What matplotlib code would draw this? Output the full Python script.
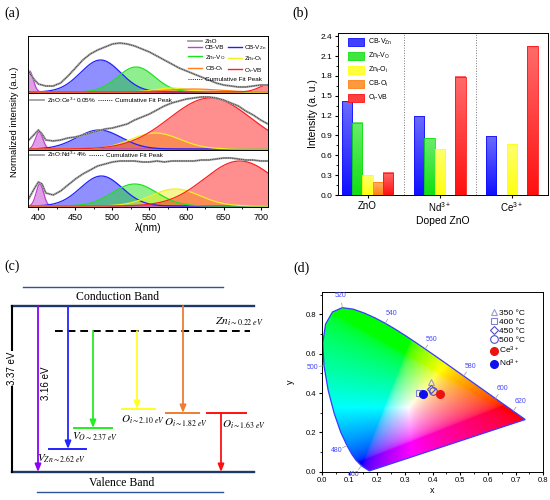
import numpy as np
import matplotlib
matplotlib.use('Agg')
import matplotlib.pyplot as plt
from matplotlib.lines import Line2D
from matplotlib.patches import Patch, Polygon
from matplotlib.ticker import MultipleLocator, FormatStrFormatter
import matplotlib.colors as mcolors

plt.rcParams['font.family'] = ['Liberation Sans', 'DejaVu Sans']
plt.rcParams['mathtext.fontset'] = 'custom'
plt.rcParams['mathtext.rm'] = 'Liberation Sans'
plt.rcParams['mathtext.it'] = 'Liberation Sans:italic'
plt.rcParams['mathtext.bf'] = 'Liberation Sans:bold'
plt.rcParams['axes.linewidth'] = 0.7

# ---------------- data: panel (a) ----------------
wavelength = [386, 395, 400, 405, 410, 420, 430, 440, 450, 460, 470, 480, 490, 500,
              510, 520, 530, 540, 550, 560, 570, 580, 590, 600, 610, 620, 630, 640,
              650, 660, 670, 680, 690, 700, 710]
zno_spec = [21, 12, 8, 7, 6, 6, 9, 16, 24, 32, 38, 42, 45, 48, 49, 48, 46, 43, 40, 36,
            32, 28, 24, 21, 18, 15, 12, 9, 7, 6, 5, 5, 6, 7, 7]
ce_spec = [8, 15, 19, 15, 9, 8, 9, 11, 12, 14, 16, 18, 20, 21, 23, 25, 29, 32, 35, 39,
           43, 46, 48, 50, 51, 52, 52, 51, 49, 46, 43, 38, 34, 29, 25]
nd_spec = [6, 18, 24, 22, 13, 11, 15, 21, 27, 32, 36, 40, 42, 44, 45, 45, 45, 44, 44, 45,
           44, 45, 45, 45, 45, 46, 46, 47, 48, 48, 47, 46, 46, 45, 45]

comp_labels = ['CB-VB', 'CB-V$_{\\rm Zn}$', 'Zn$_{\\rm i}$-V$_{\\rm O}$',
               'Zn$_{\\rm i}$-O$_{\\rm i}$', 'CB-O$_{\\rm i}$', 'O$_{\\rm i}$-VB']
comp_colors = ['#c040d0', '#2020ff', '#20e020', '#f0f020', '#ff8020', '#ff2020']

zno_peak_nm = [388, 484, 532, 580, 610, 712]
zno_peak_h = [21, 32, 25, 4, 3, 7.5]
zno_peak_w = [5, 27, 25, 22, 35, 14]
ce_peak_nm = [401, 482, 0, 558, 0, 632]
ce_peak_h = [17, 19, 0, 16, 0, 51]
ce_peak_w = [5, 30, 0, 33, 0, 55]
nd_peak_nm = [402, 485, 530, 585, 0, 672]
nd_peak_h = [22, 30, 22, 17, 0, 45]
nd_peak_w = [5, 28, 30, 33, 0, 48]

# ---------------- data: panel (b) ----------------
groups = ['ZnO', 'Nd$^{3+}$', 'Ce$^{3+}$']
cb_vzn = [1.42, 1.19, 0.89]
zni_vo = [1.09, 0.86, 0.0]
zni_oi = [0.30, 0.69, 0.77]
cb_oi = [0.19, 0.0, 0.0]
oi_vb = [0.34, 1.79, 2.25]
bar_colors = ['#1010ff', '#10e010', '#ffff10', '#ff8010', '#ff1010']

# ---------------- data: panel (c) ----------------
band_gap = 3.37
nbe_energy = 3.16
zni_energy = 0.22
defect_sym = ['V', 'V', 'O', 'O', 'O']
defect_sub = ['Zn', 'O', 'i', 'i', 'i']
defect_energy = [2.62, 2.37, 2.10, 1.82, 1.63]
defect_colors = ['#2424ff', '#22ee22', '#ffff22', '#ed7d31', '#ff1010']
defect_from = ['CB', 'Zni', 'Zni', 'CB', 'level']

# ---------------- data: panel (d) ----------------
locus_nm = [380, 390, 400, 410, 420, 430, 440, 450, 460, 470, 475, 480, 485, 490, 495,
            500, 505, 510, 515, 520, 525, 530, 535, 540, 545, 550, 555, 560, 565, 570,
            575, 580, 585, 590, 595, 600, 605, 610, 620, 630, 640, 650, 660, 680, 700]
locus_x = [0.1741, 0.1738, 0.1733, 0.1726, 0.1714, 0.1689, 0.1644, 0.1566, 0.1440, 0.1241,
           0.1096, 0.0913, 0.0687, 0.0454, 0.0235, 0.0082, 0.0039, 0.0139, 0.0389, 0.0743,
           0.1142, 0.1547, 0.1929, 0.2296, 0.2658, 0.3016, 0.3373, 0.3731, 0.4087, 0.4441,
           0.4788, 0.5125, 0.5448, 0.5752, 0.6029, 0.6270, 0.6482, 0.6658, 0.6915, 0.7079,
           0.7190, 0.7260, 0.7300, 0.7334, 0.7347]
locus_y = [0.0050, 0.0049, 0.0048, 0.0048, 0.0051, 0.0069, 0.0109, 0.0177, 0.0297, 0.0578,
           0.0868, 0.1327, 0.2007, 0.2950, 0.4127, 0.5384, 0.6548, 0.7502, 0.8120, 0.8338,
           0.8262, 0.8059, 0.7816, 0.7543, 0.7243, 0.6923, 0.6589, 0.6245, 0.5896, 0.5547,
           0.5202, 0.4866, 0.4544, 0.4242, 0.3965, 0.3725, 0.3514, 0.3340, 0.3083, 0.2920,
           0.2809, 0.2740, 0.2700, 0.2666, 0.2653]
locus_label_nm = [460, 480, 500, 520, 540, 560, 580, 600, 620]
temp_labels = ['350 °C', '400 °C', '450 °C', '500 °C']
temp_x = [0.393, 0.350, 0.395, 0.401]
temp_y = [0.455, 0.398, 0.418, 0.412]
dop_labels = ['Ce$^{3+}$', 'Nd$^{3+}$']
dop_x = [0.428, 0.366]
dop_y = [0.396, 0.397]

# ---------------- figure ----------------
W, H = 550, 500
fig = plt.figure(figsize=(5.5, 5.0), dpi=100)


def px_axes(x0, y0, x1, y1):
    return fig.add_axes([x0 / W, 1 - y1 / H, (x1 - x0) / W, (y1 - y0) / H])


def panel_label(x, y, s):
    fig.text(x / W, 1 - y / H, s, family='Liberation Serif', fontsize=10,
             ha='left', va='center')


# ================= panel (a) =================
xg = np.linspace(386, 710, 700)


def draw_spec(ax, spec, cen, amp, wid):
    for c, a, w, col in zip(cen, amp, wid, comp_colors):
        if a <= 0:
            continue
        g = a * np.exp(-0.5 * ((xg - c) / w) ** 2)
        ax.fill_between(xg, 0, g, color=col, alpha=0.5, lw=0)
        ax.plot(xg, g, color=col, lw=0.9)
    ax.plot(wavelength, spec, color='#a0a0a0', lw=1.5)
    ax.plot(wavelength, spec, color='#222222', lw=0.6, ls=(0, (1, 1.2)))
    ax.set_xlim(386, 710)
    ax.set_ylim(-1, 56)
    ax.set_yticks([])


ax_top = px_axes(28, 36, 268, 93)
ax_mid = px_axes(28, 93, 268, 150)
ax_bot = px_axes(28, 150, 268, 207)
draw_spec(ax_top, zno_spec, zno_peak_nm, zno_peak_h, zno_peak_w)
draw_spec(ax_mid, ce_spec, ce_peak_nm, ce_peak_h, ce_peak_w)
draw_spec(ax_bot, nd_spec, nd_peak_nm, nd_peak_h, nd_peak_w)
for a in (ax_top, ax_mid):
    a.set_xticks([])
ax_bot.xaxis.set_major_locator(MultipleLocator(50))
ax_bot.xaxis.set_minor_locator(MultipleLocator(25))
ax_bot.tick_params(axis='x', which='both', direction='out', labelsize=6.5, pad=1.5)
ax_bot.tick_params(axis='x', which='major', length=2.5)
ax_bot.tick_params(axis='x', which='minor', length=1.5)
ax_bot.set_xlabel('λ(nm)', fontsize=7.5, labelpad=1)
fig.text(15 / W, 1 - 121.5 / H, 'Normalized intensity (a.u.)', rotation=90,
         fontsize=6.8, ha='center', va='center')

gray_h = Line2D([], [], color='#a0a0a0', lw=1.3)
dot_h = Line2D([], [], color='#222222', lw=0.7, ls=(0, (1, 1.2)))
comp_h = [Line2D([], [], color=c, lw=1.0) for c in comp_colors]
lkw = dict(frameon=False, fontsize=4.6, borderpad=0, borderaxespad=0,
           handletextpad=0.4, handlelength=2.2, loc='center left')
l1 = ax_top.legend([gray_h], ['ZnO'], bbox_to_anchor=(0.667, 0.90), **lkw)
ax_top.add_artist(l1)
order = [0, 2, 4, 1, 3, 5]
l2 = ax_top.legend([comp_h[i] for i in order], [comp_labels[i] for i in order], ncol=2,
                   columnspacing=0.4, labelspacing=0.35,
                   bbox_to_anchor=(0.667, 0.596), **lkw)
ax_top.add_artist(l2)
ax_top.legend([dot_h], ['Cumulative Fit Peak'], bbox_to_anchor=(0.667, 0.24), **lkw)
ax_mid.legend([gray_h, dot_h], ['ZnO:Ce$^{3+}$0.05%', 'Cumulative Fit Peak'], ncol=2,
              columnspacing=0.3, bbox_to_anchor=(0.01, 0.877), **lkw)
ax_bot.legend([gray_h, dot_h], ['ZnO:Nd$^{3+}$4%', 'Cumulative Fit Peak'], ncol=2,
              columnspacing=0.3, bbox_to_anchor=(0.01, 0.92), **lkw)
panel_label(4, 13, '(a)')

# ================= panel (b) =================
axb = px_axes(338, 33, 548, 195)
series = [cb_vzn, zni_vo, zni_oi, cb_oi, oi_vb]
xpos = np.arange(len(groups))
bw = 0.143
for i, (vals, col) in enumerate(zip(series, bar_colors)):
    light = tuple(0.62 * np.array(mcolors.to_rgb(col)) + 0.38)
    cmap = mcolors.LinearSegmentedColormap.from_list('g', [light, col])
    bars = axb.bar(xpos + (i - 2) * bw, vals, bw, facecolor='none', edgecolor=col,
                   lw=0.6, zorder=3)
    for r in bars:
        if r.get_height() <= 0:
            r.set_visible(False)
            continue
        x0 = r.get_x()
        axb.imshow(np.linspace(1, 0, 64).reshape(-1, 1), cmap=cmap, aspect='auto',
                   origin='lower', extent=[x0, x0 + r.get_width(), 0, r.get_height()],
                   zorder=2)
for xs in (0.5, 1.5):
    axb.axvline(xs, color='#777777', ls=':', lw=0.7, zorder=1)
axb.set_xlim(-0.41, 2.50)
axb.set_ylim(0, 2.45)
axb.set_xticks(xpos)
axb.set_xticklabels(groups)
axb.yaxis.set_major_locator(MultipleLocator(0.3))
axb.yaxis.set_minor_locator(MultipleLocator(0.15))
axb.yaxis.set_major_formatter(FormatStrFormatter('%.1f'))
axb.tick_params(which='both', direction='out', labelsize=6, pad=1.5)
axb.tick_params(axis='x', labelsize=7)
axb.tick_params(which='major', length=2.5)
axb.tick_params(which='minor', length=1.5)
axb.set_ylabel('Intensity (a. u.)', fontsize=7.5, labelpad=2)
axb.set_xlabel('Doped ZnO', fontsize=7.5, labelpad=1)
bar_h = [Patch(facecolor=tuple(0.8 * np.array(mcolors.to_rgb(c)) + 0.2), edgecolor=c, lw=0.6)
         for c in bar_colors]
axb.legend(bar_h, comp_labels[1:], loc='upper left', bbox_to_anchor=(0.048, 0.975),
           frameon=False, fontsize=5, borderpad=0, borderaxespad=0, handlelength=2.3,
           handleheight=1.3, labelspacing=0.55, handletextpad=0.5)
panel_label(292, 13, '(b)')

# ================= panel (c) =================
axc = px_axes(0, 255, 270, 500)
axc.set_xlim(0, 270)
axc.set_ylim(-0.568, 4.405)
axc.axis('off')
cb_y, vb_y = band_gap, 0.0
zni_y = 2.862                       # schematic height of the Zn_i level
defect_level = [0.467, 0.893, 1.279, 1.198, 1.198]   # schematic heights
arrow_x = [68, 93, 137, 183, 221]
level_left = [49, 74, 122, 166, 207]
level_right = [86, 112, 155, 199, 246]
label_x = [37, 72, 121, 164, 222]
label_y = [0.26, 0.72, 1.07, 0.99, 0.95]
navy = '#203864'
axc.plot([12, 254], [cb_y, cb_y], color=navy, lw=1.7)
axc.plot([12, 254], [vb_y, vb_y], color=navy, lw=1.7)
axc.plot([23, 223], [3.756, 3.756], color='#2f5597', lw=1.0)
axc.plot([37, 223], [-0.406, -0.406], color='#2f5597', lw=1.0)
axc.text(117, 3.55, 'Conduction Band', family='Liberation Serif', fontsize=8.5,
         ha='center', va='center')
axc.text(122, -0.22, 'Valence Band', family='Liberation Serif', fontsize=8.5,
         ha='center', va='center')
axc.plot([12, 12], [vb_y, cb_y], color='k', lw=1.5)
axc.text(12, 2.11, f'{band_gap:.2f} eV', rotation=90, fontsize=7, ha='center',
         va='center', bbox=dict(facecolor='white', edgecolor='none', pad=0.6))


def arrow(x, y0, y1, col):
    axc.annotate('', xy=(x, y1), xytext=(x, y0),
                 arrowprops=dict(arrowstyle='-|>,head_length=0.45,head_width=0.18',
                                 color=col, lw=1.3, shrinkA=0, shrinkB=0))


arrow(38, cb_y, vb_y, '#8b00ff')
axc.text(46, 1.81, f'{nbe_energy:.2f} eV', rotation=90, fontsize=7, ha='center',
         va='center')
axc.plot([55, 250], [zni_y, zni_y], color='k', lw=1.4, ls=(0, (4, 2.5)))
axc.text(215, 3.05, rf'$Zn_{{i\sim{zni_energy:.2f}\ eV}}$', math_fontfamily='stix',
         fontsize=8.2, ha='left', va='center')
for i in range(len(defect_energy)):
    col = defect_colors[i]
    lv = defect_level[i]
    axc.plot([level_left[i], level_right[i]], [lv, lv], color=col, lw=1.4)
    if defect_from[i] == 'CB':
        arrow(arrow_x[i], cb_y, lv, col)
    elif defect_from[i] == 'Zni':
        arrow(arrow_x[i], zni_y, lv, col)
    else:
        arrow(arrow_x[i], lv, vb_y, col)
    axc.text(label_x[i], label_y[i],
             rf'${defect_sym[i]}_{{{defect_sub[i]}\sim{defect_energy[i]:.2f}\ eV}}$',
             math_fontfamily='stix', fontsize=8.0, ha='left', va='center')
panel_label(4, 266, '(c)')

# ================= panel (d) =================
axd = px_axes(321.7, 291.7, 543.3, 471.7)
axd.set_xlim(0, 0.8)
axd.set_ylim(0, 0.915)
gx = np.linspace(0, 0.8, 500)
gy = np.linspace(0, 0.915, 560)
XX, YY = np.meshgrid(gx, gy)
ZZ = 1 - XX - YY
M = np.array([[3.2406, -1.5372, -0.4986],
              [-0.9689, 1.8758, 0.0415],
              [0.0557, -0.2040, 1.0570]])
rgb = np.einsum('ij,jkl->kli', M, np.array([XX, YY, ZZ]))
rgb = np.clip(rgb, 0, None)
rgb = rgb / np.maximum(rgb.max(axis=2, keepdims=True), 1e-9)
rgb = rgb ** (1 / 2.2)
img = axd.imshow(rgb, origin='lower', extent=[0, 0.8, 0, 0.915], aspect='auto',
                 interpolation='bilinear', zorder=1)
poly = Polygon(np.column_stack([locus_x, locus_y]), closed=True, facecolor='none',
               edgecolor='#3a3aff', lw=0.9, zorder=2)
axd.add_patch(poly)
img.set_clip_path(poly)
axd.set_xlim(0, 0.8)
axd.set_ylim(0, 0.915)
fig.canvas.draw()
pts = axd.transData.transform(np.column_stack([locus_x, locus_y]))
for nm in locus_label_nm:
    k = locus_nm.index(nm)
    t = pts[k + 1] - pts[k - 1]
    n = np.array([-t[1], t[0]]) / np.hypot(*t)
    p = (locus_x[k], locus_y[k])
    axd.annotate('', xy=p, xytext=(n[0] * 3.5, n[1] * 3.5), textcoords='offset points',
                 arrowprops=dict(arrowstyle='-', color='#999999', lw=0.5,
                                 shrinkA=0, shrinkB=0), zorder=3)
    axd.annotate(str(nm), xy=p, xytext=(n[0] * 8.5, n[1] * 8.5),
                 textcoords='offset points', ha='center', va='center', fontsize=5,
                 color='#4646ff', zorder=3, annotation_clip=False)
mk = ['^', 's', 'D', 'o']
mk_col = ['#9a9ad8', '#8080d8', '#5050c8', '#5050c8']
mk_size = [5, 5, 4.5, 5.5]
handles = []
for i in range(4):
    h, = axd.plot(temp_x[i], temp_y[i], ls='none', marker=mk[i], mfc='none',
                  mec=mk_col[i], mew=0.8, ms=mk_size[i], zorder=4)
    handles.append(h)
for lab, x, y, c in zip(dop_labels, dop_x, dop_y, ['#ee1111', '#1010ee']):
    h, = axd.plot(x, y, ls='none', marker='o', mfc=c, mec=c, ms=5.5, zorder=5)
    handles.append(h)
axd.legend(handles, temp_labels + dop_labels, loc='upper left',
           bbox_to_anchor=(0.765, 0.905), frameon=False, fontsize=6, borderpad=0,
           borderaxespad=0, handlelength=0.6, handletextpad=0.3, labelspacing=0.15)
axd.xaxis.set_major_locator(MultipleLocator(0.1))
axd.xaxis.set_minor_locator(MultipleLocator(0.05))
axd.yaxis.set_major_locator(MultipleLocator(0.2))
axd.yaxis.set_minor_locator(MultipleLocator(0.1))
axd.xaxis.set_major_formatter(FormatStrFormatter('%.1f'))
axd.yaxis.set_major_formatter(FormatStrFormatter('%.1f'))
axd.tick_params(which='both', direction='out', labelsize=5.5, pad=1.5)
axd.tick_params(which='major', length=2.5)
axd.tick_params(which='minor', length=1.5)
axd.set_xlabel('x', fontsize=6.5, labelpad=1)
axd.set_ylabel('y', fontsize=6.5, labelpad=8)
panel_label(293, 268, '(d)')

fig.savefig('out.png', dpi=100)
